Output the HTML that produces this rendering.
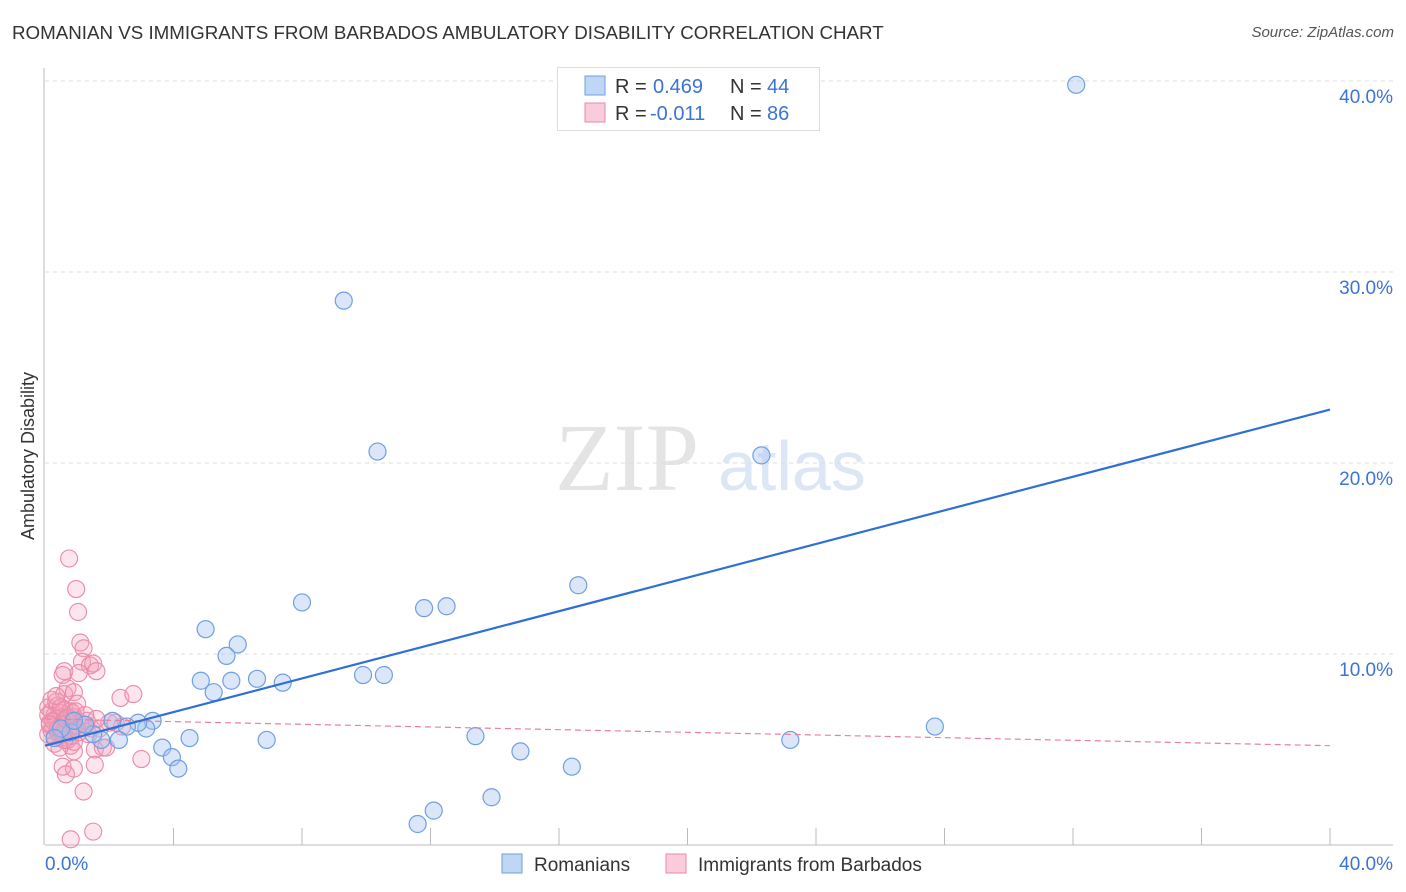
<!DOCTYPE html>
<html><head><meta charset="utf-8"><style>
body{margin:0;background:#fff;font-family:"Liberation Sans",sans-serif;}
#wrap{position:relative;width:1406px;height:892px;overflow:hidden}
.t{position:absolute;white-space:nowrap}
</style></head><body>
<div id="wrap">
<div class="t" style="left:12px;top:22px;font-size:18.75px;color:#333">ROMANIAN VS IMMIGRANTS FROM BARBADOS AMBULATORY DISABILITY CORRELATION CHART</div>
<div class="t" style="right:12px;top:24px;font-size:15px;color:#555;font-style:italic">Source: ZipAtlas.com</div>
<svg id="svg" width="1406" height="892" style="position:absolute;left:0;top:0"></svg>
</div>
<script>
const yTicks=[10,20,30,40];
const yTickLabels=["10.0%","20.0%","30.0%","40.0%"];
const xTickLabels=["0.0%","40.0%"];
const blueX=[32.1,9.3,10.35,22.3,16.6,8.0,11.8,12.5,5.0,6.0,5.65,4.85,5.25,5.8,6.6,7.4,9.9,10.55,27.7,23.2,13.4,14.8,16.4,13.9,12.1,11.6,6.9,4.5,3.65,3.95,4.15,3.35,3.15,2.9,2.55,2.1,2.3,1.75,1.5,1.25,0.8,0.5,0.3,0.9];
const blueY=[39.8,28.5,20.6,20.4,13.6,12.7,12.4,12.5,11.3,10.5,9.9,8.6,8.0,8.6,8.7,8.5,8.9,8.9,6.2,5.5,5.7,4.9,4.1,2.5,1.8,1.1,5.5,5.6,5.1,4.6,4.0,6.5,6.1,6.4,6.2,6.5,5.5,5.5,5.8,6.3,5.9,6.1,5.6,6.5];
const pinkX=[0.75,0.97,1.03,1.1,1.2,1.15,1.4,1.5,1.6,0.6,0.55,1.05,0.6,0.7,0.9,2.35,2.75,1.45,2.0,1.7,1.35,0.8,0.9,1.55,1.8,2.4,3.0,0.55,0.9,0.65,1.55,1.2,0.8,1.5,1.9,
0.1,0.2,0.3,0.4,0.5,0.6,0.7,0.8,0.9,1.0,1.1,1.2,0.15,0.25,0.35,0.45,0.55,0.65,0.75,0.85,0.95,1.05,0.1,0.2,0.3,0.4,0.5,0.6,0.7,0.8,0.9,0.1,0.25,0.4,0.55,0.7,0.85,1.0,0.2,0.35,0.5,0.65,0.3,0.45,0.6,1.3,1.6,0.15,0.35,0.95,1.25,2.2];
const pinkY=[15.0,13.4,12.2,10.6,10.3,9.6,9.4,9.5,9.1,9.1,8.9,9.0,7.9,8.2,8.0,7.7,7.9,6.1,6.4,6.1,5.8,5.2,4.9,5.0,5.1,6.2,4.5,4.1,4.0,3.7,4.2,2.8,0.3,0.7,5.1,
7.2,7.0,6.8,7.3,6.9,7.1,6.6,7.0,6.7,6.5,6.4,6.3,6.4,6.2,6.6,6.0,6.3,6.5,6.1,6.0,6.2,5.9,5.8,6.0,5.7,5.9,5.6,5.8,5.5,5.7,5.4,6.8,6.5,6.1,5.9,6.7,6.9,7.4,7.6,7.5,7.2,6.6,5.3,5.1,5.5,6.5,6.6,6.3,7.8,7.0,6.8,6.4];
const blueLine=[5.2,22.8];
const pinkLine=[6.6,5.2];
const X=v=>45+v*32.125, Y=v=>845-v*19.1;
const NS="http://www.w3.org/2000/svg";
const svg=document.getElementById('svg');
function mk(t,a,p){const e=document.createElementNS(NS,t);for(const k in a)e.setAttribute(k,a[k]);(p||svg).appendChild(e);return e;}
let wm=mk('text',{x:555,y:490,'font-size':96,'font-family':'Liberation Serif, serif',fill:'#e4e4e4'});wm.textContent='ZIP';

let wm2=mk('text',{x:718,y:490,'font-size':70,'font-family':'Liberation Sans, sans-serif',fill:'#dce6f5'});wm2.textContent='atlas';

yTicks.forEach((v,i)=>{
 const g=mk('line',{x1:45,x2:1393,y1:Y(v),y2:Y(v),stroke:'#ddd','stroke-dasharray':'4,4'});
 
 const t=mk('text',{x:1393,y:Y(v)+22,'text-anchor':'end','font-size':19,fill:'#3b74d4'});t.textContent=yTickLabels[i];
 
});
let ax=mk('line',{x1:45,x2:1393,y1:845,y2:845,stroke:'#bbb'});
let ay=mk('line',{x1:44,x2:44,y1:68,y2:845,stroke:'#bbb'});
for(let i=1;i<=10;i++){const tk=mk('line',{x1:X(i*4),x2:X(i*4),y1:828,y2:845,stroke:'#bbb'});}
let xl=mk('text',{x:45,y:870,'font-size':19,fill:'#3b74d4'});xl.textContent=xTickLabels[0];
let xr=mk('text',{x:1393,y:870,'text-anchor':'end','font-size':19,fill:'#3b74d4'});xr.textContent=xTickLabels[1];
let yt=mk('text',{x:34,y:456,'font-size':18,fill:'#333','text-anchor':'middle',transform:'rotate(-90 34 456)'});yt.textContent='Ambulatory Disability';
pinkX.forEach((x,i)=>{const c=mk('circle',{cx:X(x),cy:Y(pinkY[i]),r:8.5,fill:'rgba(244,160,185,0.28)',stroke:'#e98aa8','stroke-width':1.1});
 });
blueX.forEach((x,i)=>{const c=mk('circle',{cx:X(x),cy:Y(blueY[i]),r:8.5,fill:'rgba(164,196,240,0.4)',stroke:'#6f9fe2','stroke-width':1.2});
 });
let pl=mk('line',{x1:X(0),y1:Y(pinkLine[0]),x2:X(40),y2:Y(pinkLine[1]),stroke:'#e8809f','stroke-width':1.2,'stroke-dasharray':'6,4'});

let bl=mk('line',{x1:X(0),y1:Y(blueLine[0]),x2:X(40),y2:Y(blueLine[1]),stroke:'#2f6fd6','stroke-width':2.2});

let lb=mk('rect',{x:557.5,y:67.5,width:262,height:63,fill:'#fff',stroke:'#ddd'});
[[0,'rgba(164,196,240,0.7)','#6f9fe2','0.469','44'],[1,'rgba(244,170,195,0.6)','#e98aa8','-0.011','86']].forEach(r=>{
 const y=76+r[0]*27;
 const s=mk('rect',{x:585,y:y,width:20,height:19,fill:r[1],stroke:r[2]});
 const t=mk('text',{x:615,y:y+17,'font-size':20,fill:'#333'});
 t.innerHTML='R = <tspan x="'+(r[0]?650:653)+'" fill="#3b74d4">'+r[3]+'</tspan><tspan x="730">N = </tspan><tspan x="767" fill="#3b74d4">'+r[4]+'</tspan>';
});
[[502,'rgba(164,196,240,0.7)','#6f9fe2','Romanians'],[666,'rgba(244,170,195,0.6)','#e98aa8','Immigrants from Barbados']].forEach(r=>{
 const s=mk('rect',{x:r[0],y:854,width:20,height:19,fill:r[1],stroke:r[2]});
 const t=mk('text',{x:r[0]+32,y:871,'font-size':19,fill:'#333'});t.textContent=r[3];
});
</script>
</body></html>
